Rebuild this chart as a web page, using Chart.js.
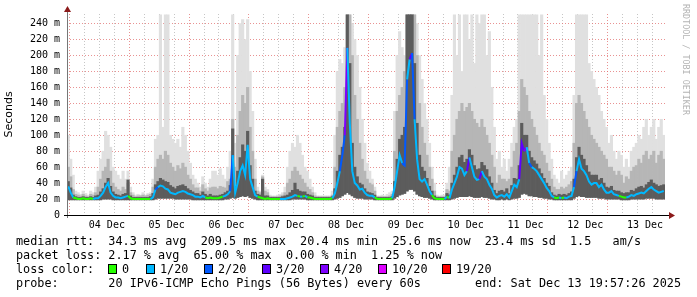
<!DOCTYPE html>
<html>
<head>
<meta charset="utf-8">
<script src="https://cdn.jsdelivr.net/npm/chart.js@4.4.1/dist/chart.umd.min.js"></script>
<style>
  body { margin: 0; background: #fff; }
  #wrap { position: relative; width: 697px; height: 297px; overflow: hidden; }
  canvas { position: absolute; left: 0; top: 0; }
  .t { position: absolute; font-family: "DejaVu Sans Mono", monospace; font-size: 11.8px; line-height: 14px; white-space: pre; color: #000; }
  .box { position: absolute; top: 264px; width: 7px; height: 8px; border: 1px solid #000; }
  #brand { position: absolute; left: 681px; top: 4px; writing-mode: vertical-rl; font-family: "DejaVu Sans Mono", monospace; font-size: 8.4px; color: #b4b4b4; }
</style>
</head>
<body>
<div id="wrap">
  <canvas id="chart" width="697" height="297"></canvas>
  <div id="brand">RRDTOOL / TOBI OETIKER</div>
  <div class="t" style="left:16px;top:234px">median rtt:  34.3 ms avg  209.5 ms max  20.4 ms min  25.6 ms now  23.4 ms sd  1.5   am/s</div>
  <div class="t" style="left:16px;top:248px">packet loss: 2.17 % avg  65.00 % max  0.00 % min  1.25 % now</div>
  <div class="t" style="left:16px;top:262px">loss color:</div>
  <div class="t" style="left:16px;top:276px">probe:       20 IPv6-ICMP Echo Pings (56 Bytes) every 60s</div>
  <div class="t" style="right:16px;top:276px">end: Sat Dec 13 19:57:26 2025</div>
</div>
<script>
// hourly bins, starting Dec 03 20:00 (values in ms)
const rttMedian = [
  36,28,22,21,                                                          // 03 Dec
  20,20,21,20,20,21,20,21, 21,24,28,35, 40,28,24,22, 22,21,22,23, 24,21,20,20,   // 04
  20,20,20,20,20,20, 22,32,35,37,36,33, 32,28,27,26,28,29, 30,29,27,26,25,23,     // 05
  23,22,24,22,21,22, 21,21,21,22,23,24, 26,30,75,28,40,55, 62,50,88,45,35,25,     // 06
  23,22,21,20,21,20, 20,20,20,20,20,20, 21,22,23,25,24,23, 23,24,22,22,21,20,     // 07
  20,20,20,20,20,20, 21,27,40,55,75,100, 209.5,115,55,40,37,32, 33,28,25,24,24,22, // 08
  20,20,20,20,20,20, 21,35,55,75,65,62, 170,195,203,120,70,45, 42,45,38,30,25,21, // 09
  20,20,20,20,23,21, 32,40,48,60,58,50, 55,72,60,48,44,45, 55,48,45,38,33,25,     // 10
  22,24,25,23,26,22, 30,38,35,45,90,80, 85,65,60,58,55,50, 45,40,34,30,24,22,     // 11
  21,22,21,22,21,23, 24,35,55,70,58,55, 50,42,38,40,40,35, 38,32,28,28,30,26,     // 12
  25,24,23,22,22,23, 25,24,26,27,28,27, 30,33,35,32,30,28, 29,30                  // 13
];
const rttMin = [
  19,19,19,19,
  19,19,19,19,19,19,19,19, 19,19,20,20, 20,20,19,19, 19,19,19,19, 19,19,19,19,
  19,19,19,19,19,19, 19,20,21,21,21,21, 21,21,21,20,20,20, 20,20,20,20,19,19,
  19,19,19,19,19,19, 19,19,19,19,19,20, 20,21,22,21,22,23, 24,23,24,22,21,20,
  19,19,19,19,19,19, 19,19,19,19,19,19, 19,19,20,20,20,20, 20,20,19,19,19,19,
  19,19,19,19,19,19, 19,20,21,22,24,26, 28,26,24,22,21,21, 21,20,20,20,20,19,
  19,19,19,19,19,19, 19,21,23,25,26,27, 30,32,32,30,26,24, 23,22,22,21,20,19,
  19,19,19,19,19,19, 20,21,22,23,23,23, 23,24,23,22,22,22, 23,22,22,21,20,20,
  19,19,20,19,20,19, 20,21,21,22,26,27, 26,24,24,23,23,22, 22,21,21,20,20,19,
  19,19,19,19,19,19, 19,21,23,24,23,23, 22,22,22,22,22,21, 21,21,20,20,20,20,
  20,20,19,19,19,19, 20,20,20,20,20,20, 21,21,21,21,20,20, 20,20
];
const rttDark = [
  42,34,25,23,
  22,22,23,22,22,23,22,24, 25,29,33,40, 46,36,29,26, 25,24,26,27, 44,24,22,22,
  22,22,22,22,22,23, 27,38,42,46,44,42, 41,37,35,33,36,37, 38,36,33,31,29,27,
  27,25,29,26,24,26, 24,24,24,25,26,28, 30,37,108,36,55,72, 88,80,105,62,45,30,
  26,25,45,24,24,22, 22,22,22,22,23,24, 25,28,31,40,32,30, 29,29,26,25,24,22,
  22,22,22,22,22,22, 23,33,55,75,85,110, 251,190,90,60,48,40, 38,33,29,28,27,25,
  22,22,22,22,22,22, 23,42,70,95,100,110, 251,251,251,190,115,75, 60,55,46,36,30,24,
  22,22,22,22,27,25, 40,50,60,72,75,66, 70,82,75,62,57,58, 66,62,57,48,40,31,
  27,30,31,29,33,27, 37,46,45,62,115,100, 100,80,72,68,64,58, 52,46,40,36,28,25,
  24,26,25,26,25,27, 29,45,72,85,75,70, 62,54,50,50,50,44, 46,40,35,34,36,31,
  30,30,28,27,28,28, 31,30,33,35,36,34, 38,41,44,40,38,36, 37,38
];
const rttMid = [
  60,48,32,26,
  25,24,26,24,23,26,25,28, 35,45,55,60, 70,55,40,35, 32,30,35,32, 40,28,25,23,
  24,24,25,24,25,26, 35,60,70,75,70,80, 75,65,60,55,62,58, 65,60,50,45,38,34,
  34,30,38,33,30,34, 35,35,33,36,35,34, 42,45,120,60,100,130, 150,140,160,110,80,45,
  30,28,48,30,28,23, 23,23,23,24,25,28, 40,45,55,60,55,50, 45,40,35,32,28,24,
  23,23,23,23,23,23, 25,60,110,130,140,160, 251,251,200,150,120,90, 70,55,45,40,38,30,
  23,23,23,23,23,24, 26,80,130,150,160,180, 251,251,251,251,200,140, 110,90,75,60,45,30,
  23,23,23,23,32,30, 80,100,120,130,140,130, 135,140,130,120,115,110, 120,110,100,90,75,60,
  40,50,45,45,42,45, 60,80,90,130,170,160, 150,130,120,110,100,90, 80,75,65,55,45,35,
  32,32,35,33,35,38, 42,90,140,150,140,130, 120,110,100,95,90,85, 80,75,70,60,60,55,
  50,55,50,40,48,45, 55,60,62,70,65,75, 80,70,75,80,65,75, 80,70
];
const rttMax = [
  100,70,50,30,
  28,26,30,27,25,30,28,35, 55,70,80,105, 100,85,60,55, 50,45,55,45, 55,35,28,25,
  26,25,28,25,27,28, 45,95,100,251,110,251, 251,100,95,90,95,85, 110,100,80,65,50,45,
  40,35,48,40,35,45, 55,55,50,58,50,45, 60,80,251,90,200,240, 245,220,245,180,130,70,
  35,30,50,35,32,25, 24,24,25,26,28,35, 60,80,90,85,100,90, 75,60,55,45,35,28,
  24,24,24,24,24,24, 30,100,180,195,190,210, 251,251,240,220,200,160, 120,90,65,55,45,35,
  24,24,25,24,26,28, 30,130,200,230,210,200, 251,251,251,251,240,200, 170,140,120,90,60,40,
  25,24,25,25,40,60, 150,251,200,251,180,251, 251,220,251,190,251,240, 251,251,200,230,160,110,
  70,80,60,70,55,70, 90,110,120,251,251,251, 251,251,251,251,251,200, 251,150,120,90,70,50,
  45,40,55,45,50,55, 60,150,251,251,251,251, 251,190,180,170,160,150, 130,120,110,90,100,80,
  70,80,75,60,70,60, 80,85,90,100,95,110, 120,100,110,120,95,110, 120,100
];
// lost pings out of 20 per bin
const lossPings = [
  1,1,1,0,
  0,0,0,0,0,0,0,1, 1,1,1,1, 1,1,1,1, 1,1,1,1, 1,0,0,0,
  0,0,0,0,0,0, 1,1,2,1,1,1, 1,1,1,1,1,1, 1,1,1,1,1,1,
  1,1,1,1,0,0, 0,0,0,0,0,1, 1,1,2,1,1,1, 1,1,1,1,1,1,
  1,0,0,0,0,0, 0,0,0,0,1,1, 1,1,1,1,1,0, 1,0,1,0,0,0,
  0,0,0,0,0,0, 0,1,1,1,2,2, 4,1,1,1,1,1, 1,1,1,1,1,1,
  0,0,0,0,0,0, 0,1,1,1,1,2, 2,1,3,2,1,1, 1,1,1,1,1,0,
  0,0,0,0,1,0, 1,1,1,1,1,1, 1,3,1,1,1,1, 3,1,1,1,1,1,
  1,1,1,1,1,1, 1,1,1,1,3,3, 4,1,2,1,1,1, 1,1,1,1,1,1,
  0,0,1,0,1,1, 1,1,2,1,1,1, 1,1,1,1,1,1, 1,1,1,1,1,1,
  1,1,0,0,0,1, 1,1,1,1,1,1, 1,1,1,1,1,1, 1,1
];
const dayLabels = ['04 Dec','05 Dec','06 Dec','07 Dec','08 Dec','09 Dec','10 Dec','11 Dec','12 Dec','13 Dec'];
const lossLevels = [0, 1, 2, 3, 4, 10, 19];
const lossNames = ['0', '1/20', '2/20', '3/20', '4/20', '10/20', '19/20'];
const lossColors = { 0:'#26ff00', 1:'#00b8ff', 2:'#0059ff', 3:'#5e00ff', 4:'#7e00ff', 10:'#dd00ff', 19:'#ff0000' };

// loss color legend
const legendX = [108, 146, 204, 262, 320, 378, 442];
const wrap = document.getElementById('wrap');
lossLevels.forEach((lv, i) => {
  const b = document.createElement('div');
  b.className = 'box';
  b.style.left = legendX[i] + 'px';
  b.style.background = lossColors[lv];
  wrap.appendChild(b);
  const t = document.createElement('div');
  t.className = 't';
  t.style.left = (legendX[i] + 14) + 'px';
  t.style.top = '262px';
  t.textContent = lossNames[i];
  wrap.appendChild(t);
});

function band(top) {
  return top.map((v, i) => ({ x: i + 0.5, y: [rttMin[i], v] }));
}

const MAJOR = 'rgba(225,110,110,0.75)';
const MINOR = 'rgba(160,160,160,0.6)';
const tickVal = c => (c.tick ? c.tick.value : -1);

const axisDeco = {
  id: 'axisDeco',
  afterDraw(chart) {
    const { ctx, chartArea: a } = chart;
    ctx.save();
    ctx.lineWidth = 1;
    ctx.strokeStyle = '#777';
    ctx.beginPath(); ctx.moveTo(a.left + 0.5, a.bottom + 3); ctx.lineTo(a.left + 0.5, 10); ctx.stroke();
    ctx.strokeStyle = '#000';
    ctx.beginPath(); ctx.moveTo(a.left - 3, a.bottom + 0.5); ctx.lineTo(a.right + 5, a.bottom + 0.5); ctx.stroke();
    ctx.fillStyle = '#8b1a1a';
    ctx.beginPath(); ctx.moveTo(a.left + 0.5, 6); ctx.lineTo(a.left - 3, 12); ctx.lineTo(a.left + 4, 12); ctx.closePath(); ctx.fill();
    ctx.beginPath(); ctx.moveTo(a.right + 10, a.bottom + 0.5); ctx.lineTo(a.right + 4, a.bottom - 3); ctx.lineTo(a.right + 4, a.bottom + 4); ctx.closePath(); ctx.fill();
    ctx.restore();
  }
};

const smoke = (label, top, color, order) => ({
  type: 'bar', label, data: band(top), backgroundColor: color,
  borderWidth: 0, grouped: false, barPercentage: 1, categoryPercentage: 1, order
});

new Chart(document.getElementById('chart'), {
  type: 'bar',
  data: {
    datasets: [
      {
        type: 'line', label: 'median rtt',
        data: rttMedian.map((v, i) => ({ x: i + 0.5, y: v })),
        borderWidth: 2, pointRadius: 0, tension: 0, order: 0,
        segment: { borderColor: c => lossColors[lossPings[c.p1DataIndex]] }
      },
      smoke('dark', rttDark, '#5c5c5c', 1),
      smoke('mid', rttMid, '#b6b6b6', 2),
      smoke('max', rttMax, '#e0e0e0', 3)
    ]
  },
  options: {
    responsive: false,
    animation: false,
    layout: { padding: { left: 0, right: 32, top: 14, bottom: 62 } },
    plugins: { legend: { display: false }, tooltip: { enabled: false } },
    scales: {
      x: {
        type: 'linear', min: 0, max: 240, z: 1, offset: false,
        afterBuildTicks: s => { const t = []; for (let v = 4; v <= 240; v += 6) t.push({ value: v }); s.ticks = t; },
        afterFit: s => { s.height = 20; },
        ticks: {
          autoSkip: false, maxRotation: 0, padding: 4, color: '#000',
          font: { family: 'DejaVu Sans Mono', size: 10 },
          callback: v => ((v - 16) % 24 === 0 ? dayLabels[(v - 16) / 24] : '')
        },
        grid: {
          drawTicks: false,
          color: c => ((tickVal(c) - 4) % 24 === 0 ? MAJOR : MINOR)
        },
        border: { display: false, dash: [1, 2] }
      },
      y: {
        type: 'linear', min: 0, max: 252, z: 1,
        afterBuildTicks: s => { const t = []; for (let v = 0; v <= 250; v += 10) t.push({ value: v }); s.ticks = t; },
        afterFit: s => { s.width = 67; },
        ticks: {
          padding: 7, color: '#000',
          font: { family: 'DejaVu Sans Mono', size: 10 },
          callback: v => (v % 20 === 0 ? (v === 0 ? '0' : v + ' m') : '')
        },
        grid: {
          drawTicks: false,
          color: c => (tickVal(c) % 20 === 0 ? MAJOR : MINOR)
        },
        border: { display: false, dash: [1, 2] },
        title: { display: true, text: 'Seconds', color: '#000', padding: 3, font: { family: 'DejaVu Sans', size: 11 } }
      }
    }
  },
  plugins: [axisDeco]
});
</script>
</body>
</html>
